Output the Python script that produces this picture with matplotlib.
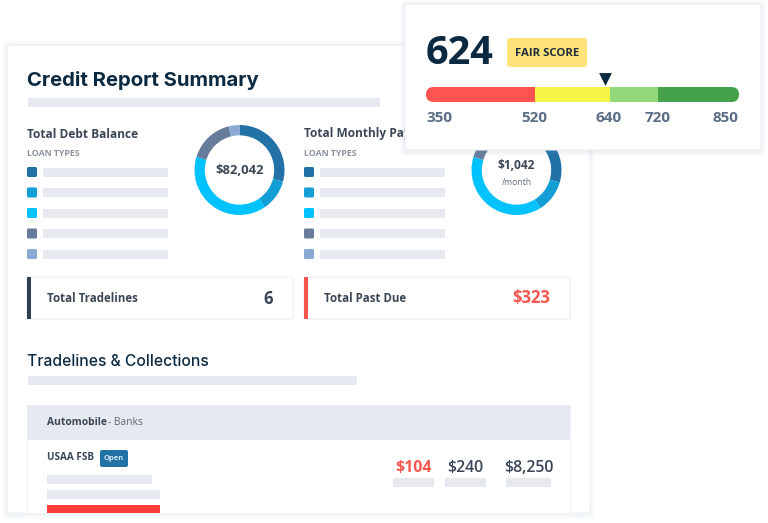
# matplotlib inline
import matplotlib.pyplot as plt
import numpy as np
from matplotlib.patches import FancyBboxPatch, Rectangle

# 画像から読み取った値
debt_shares = [105, 41, 141, 59, 14] #Total Debt Balance のドーナツ
monthly_shares = [106, 42, 139, 55, 18] #Total Monthly Payment のドーナツ
loan_colors = ['#2272A8', '#139FD6', '#00C2FF', '#667C9A', '#8AA9D4']
score_stops = [350, 520, 640, 720, 850]
score_px = [426, 535, 610, 657.5, 739] #スコアと画面上の位置の対応
score_colors = ['#FF544F', '#F5F345', '#93D87A', '#45A24A']
marker_score = 632 #三角の位置から読み取った値
row_values = ['$104', '$240', '$8,250']

plt.rcParams['font.family'] = ['Open Sans', 'DejaVu Sans']
dark = '#3A4656'
placeholder = '#E6E9F0'

plt.figure(figsize=(7.68, 5.23), dpi=100)

# 土台のカードを描く。座標はピクセルのまま。
base = plt.axes([0, 0, 1, 1])
plt.xlim(0, 768)
plt.ylim(523, 0)
plt.axis('off')

# カードの影
for i in range(6):
  base.add_patch(FancyBboxPatch((7 - i, 45 - i + 1), 583 + 2 * i, 468 + 2 * i, boxstyle='round,pad=0,rounding_size=4', fc='#8D98B3', ec='none', alpha=0.02))
base.add_patch(FancyBboxPatch((7, 45), 583, 468, boxstyle='round,pad=0,rounding_size=3', fc='white', ec='#EDEFF5', lw=0.8))

plt.text(27, 81, 'Credit Report Summary', fontsize=14.6, fontweight='bold', family=['Inter', 'DejaVu Sans'], color='#0B2A42', va='center')
plt.barh(102.5, 352, height=9, left=28, color=placeholder)

# 凡例の四角とグレーの棒
for x0, title in [(27, 'Total Debt Balance'), (304, 'Total Monthly Payment')]:
  plt.text(x0, 134, title, fontsize=8.6, fontweight='bold', color=dark, va='center')
  plt.text(x0, 154, 'LOAN TYPES', fontsize=6.3, fontweight='bold', color='#8A929E', va='center')
  for i, c in enumerate(loan_colors):
    y = 172 + i * 20.5
    base.add_patch(FancyBboxPatch((x0, y - 5), 10, 10, boxstyle='round,pad=0,rounding_size=1.5', fc=c, ec='none'))
    plt.barh(y, 125, height=9, left=x0 + 16, color=placeholder)

# 合計のボックス
boxes = [(27, 'Total Tradelines', '6', dark, '#2F3E52'), (304, 'Total Past Due', '$323', '#F9564F', '#F9564F')]
for x0, label, value, vcolor, accent in boxes:
  base.add_patch(FancyBboxPatch((x0, 277), 266, 42, boxstyle='round,pad=0,rounding_size=2', fc='white', ec='#EDEFF5', lw=0.8))
  base.add_patch(Rectangle((x0, 277), 4, 42, fc=accent, ec='none'))
  plt.text(x0 + 20, 299, label, fontsize=8.3, fontweight='bold', color=dark, va='center')
  plt.text(x0 + 246, 298.5, value, fontsize=12, fontweight='bold', color=vcolor, va='center', ha='right')

plt.text(27, 361, 'Tradelines & Collections', fontsize=11.3, fontweight='medium', family=['Inter', 'DejaVu Sans'], color='#0B2A42', va='center')
plt.barh(380.5, 329, height=9, left=28, color=placeholder)

# 下の表
base.add_patch(Rectangle((27, 405), 543, 108, fc='white', ec='#F0F2F6', lw=0.8))
base.add_patch(FancyBboxPatch((27, 405), 543, 35, boxstyle='round,pad=0,rounding_size=2', fc='#E6E9EF', ec='none'))
plt.text(47, 422.5, 'Automobile', fontsize=7.4, fontweight='bold', color=dark, va='center')
plt.text(108, 422.5, '- Banks', fontsize=7.4, color='#5D6878', va='center')
plt.text(47, 458, 'USAA FSB', fontsize=7.1, fontweight='bold', color=dark, va='center')
base.add_patch(FancyBboxPatch((100, 450), 28, 17, boxstyle='round,pad=0,rounding_size=2', fc='#2272A8', ec='none'))
plt.text(114, 458.5, 'Open', fontsize=5.4, fontweight='bold', color='#D5E6F2', va='center', ha='center')
plt.barh(479.5, 105, height=9, left=47, color=placeholder)
plt.barh(494.5, 113, height=9, left=47, color=placeholder)
plt.barh(509, 113, height=8, left=47, color='#FF3B3B')
for value, cx, w, c in zip(row_values, [413.5, 465, 528.5], [41, 41, 45], ['#F9564F', dark, dark]):
  plt.text(cx, 468, value, fontsize=11.4, fontweight='bold' if c != dark else 'semibold', color=c, va='center', ha='center')
  plt.barh(482.5, w, height=9, left=cx - w / 2, color=placeholder)

# ドーナツを描く。半径 45px の軸をカードの上に置く。
for cx, shares, label in [(239.5, debt_shares, '$82,042'), (516.5, monthly_shares, '$1,042')]:
  plt.axes([(cx - 46) / 768, 1 - (170 + 46) / 523, 92 / 768, 92 / 523])
  plt.pie(shares, colors=loan_colors, startangle=90, counterclock=False, radius=1, wedgeprops={'width': 0.23, 'edgecolor': 'none'})
  plt.xlim(-46 / 45, 46 / 45)
  plt.ylim(-46 / 45, 46 / 45)
  if label == '$82,042':
    plt.text(0, 0, label, fontsize=9.4, fontweight='bold', color=dark, ha='center', va='center')
  else:
    plt.text(0, 0.1, label, fontsize=8.6, fontweight='bold', color=dark, ha='center', va='center')
    plt.text(0, -0.27, '/month', fontsize=6.2, color='#5D6878', ha='center', va='center')

# スコアのカードは一番上の軸に描く
top = plt.axes([0, 0, 1, 1], zorder=5)
top.patch.set_alpha(0)
plt.xlim(0, 768)
plt.ylim(523, 0)
plt.axis('off')
for i in range(6):
  top.add_patch(FancyBboxPatch((405 - i, 4 - i + 1), 356 + 2 * i, 146 + 2 * i, boxstyle='round,pad=0,rounding_size=4', fc='#8D98B3', ec='none', alpha=0.025))
top.add_patch(FancyBboxPatch((405, 4), 356, 146, boxstyle='round,pad=0,rounding_size=3', fc='white', ec='#EDEFF5', lw=0.8))

plt.text(425.5, 53, '624', fontsize=28.5, fontweight='bold', color='#0B2A42', va='center')
top.add_patch(FancyBboxPatch((507, 38), 80, 29, boxstyle='round,pad=0,rounding_size=3', fc='#FFE27A', ec='none'))
plt.text(547, 53.5, 'FAIR SCORE', fontsize=8.2, fontweight='bold', color='#1F2D3D', va='center', ha='center')

# スコアのバー。両端は角丸で切り抜く。
to_px = np.interp(score_stops, score_stops, score_px)
gauge = plt.barh(94.5, np.diff(to_px), height=15, left=to_px[:-1], color=score_colors)
outline = FancyBboxPatch((426, 87), 313, 15, boxstyle='round,pad=0,rounding_size=7.5', fc='none', ec='none')
top.add_patch(outline)
for bar in gauge:
  bar.set_clip_path(outline)

plt.scatter(np.interp(marker_score, score_stops, score_px), 78.5, marker='v', s=85, color='#0B2A42', linewidths=0)

tick_x = [426, 534, 609, 658, 738.5]
tick_ha = ['left', 'center', 'center', 'center', 'right']
for stop, x, ha in zip(score_stops, tick_x, tick_ha):
  plt.text(x, 118.5, str(stop), fontsize=11, fontweight='bold', color='#5A6E85', va='center', ha=ha)

plt.xlim(0, 768)
plt.ylim(523, 0)
plt.savefig('out.png', dpi=100)
